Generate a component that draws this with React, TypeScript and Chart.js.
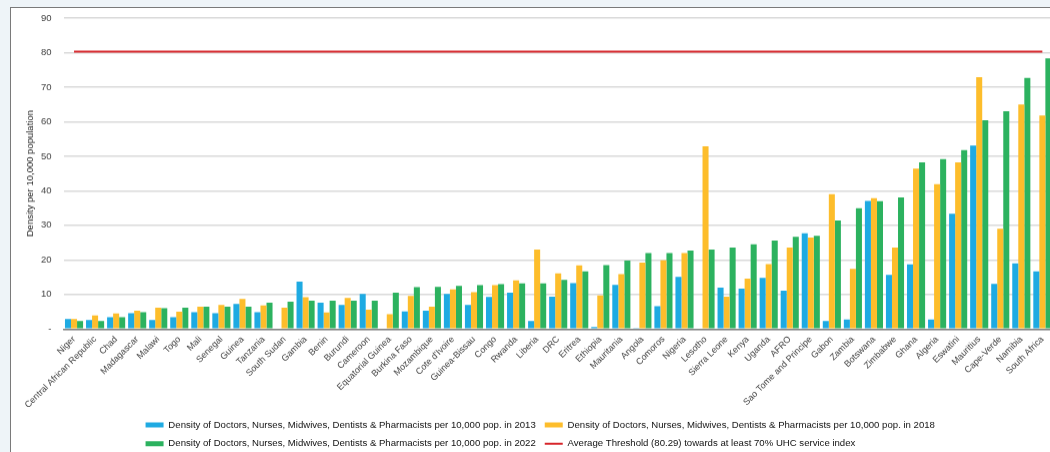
import React, { useEffect, useRef } from 'react';
import { Chart, registerables } from 'chart.js';

Chart.register(...registerables);

const FONT = "'Liberation Sans', Arial, sans-serif";

const categories = [
  'Niger', 'Central African Republic', 'Chad', 'Madagascar', 'Malawi', 'Togo', 'Mali', 'Senegal', 'Guinea',
  'Tanzania', 'South Sudan', 'Gambia', 'Benin', 'Burundi', 'Cameroon', 'Equatorial Guinea', 'Burkina Faso',
  'Mozambique', "Cote d'Ivoire", 'Guinea-Bissau', 'Congo', 'Rwanda', 'Liberia', 'DRC', 'Eritrea', 'Ethiopia',
  'Mauritania', 'Angola', 'Comoros', 'Nigeria', 'Lesotho', 'Sierra Leone', 'Kenya', 'Uganda', 'AFRO',
  'Sao Tome and Principe', 'Gabon', 'Zambia', 'Botswana', 'Zimbabwe', 'Ghana', 'Algeria', 'Eswatini',
  'Mauritius', 'Cape-Verde', 'Namibia', 'South Africa',
];

const density2013 = [
  2.9, 2.6, 3.4, 4.6, 2.6, 3.4, 4.9, 4.6, 7.3, 4.9, null, 13.7, 7.6, 7.0, 10.2, null, 5.1, 5.3, 10.2, 7.0,
  9.3, 10.5, 2.3, 9.4, 13.3, 0.6, 12.8, 0.3, 6.6, 15.1, null, 12.0, 11.7, 14.8, 11.1, 27.7, 2.3, 2.8, 37.1,
  15.7, 18.7, 2.8, 33.4, 53.1, 13.1, 19.0, 16.7,
];

const density2018 = [
  2.9, 3.9, 4.5, 5.3, 6.2, 5.0, 6.5, 7.0, 8.7, 6.8, 6.2, 9.2, 4.8, 9.0, 5.6, 4.3, 9.6, 6.5, 11.5, 10.7,
  12.7, 14.1, 23.0, 16.1, 18.4, 9.7, 15.9, 19.2, 19.9, 22.0, 52.9, 9.4, 14.6, 18.8, 23.6, 26.5, 39.0, 17.4,
  37.9, 23.6, 46.4, 41.9, 48.2, 72.9, 29.0, 65.0, 61.8,
];

const density2022 = [
  2.3, 2.3, 3.4, 4.9, 6.0, 6.2, 6.5, 6.5, 6.5, 7.6, 7.9, 8.2, 8.2, 8.2, 8.2, 10.5, 12.1, 12.2, 12.5, 12.7,
  13.0, 13.2, 13.2, 14.2, 16.7, 18.5, 19.8, 22.0, 22.0, 22.7, 23.0, 23.6, 24.5, 25.6, 26.7, 27.0, 31.4, 35.0,
  37.0, 38.1, 48.2, 49.2, 51.8, 60.4, 63.0, 72.7, 78.3,
];

const THRESHOLD = 80.29;

const seriesLabels = [
  'Density of Doctors, Nurses, Midwives, Dentists & Pharmacists per 10,000 pop. in 2013',
  'Density of Doctors, Nurses, Midwives, Dentists & Pharmacists per 10,000 pop. in 2018',
  'Density of Doctors, Nurses, Midwives, Dentists & Pharmacists per 10,000 pop. in 2022',
  'Average Threshold (80.29) towards at least 70% UHC service index',
];

const yTitle = 'Density per 10,000 population';

const BLUE = '#1eaae2';
const ORANGE = '#fdbd2b';
const GREEN = '#2cb25f';
const RED = '#d7262b';

const LEGEND_PAD = 9;

// Center the first legend row and left-align the following rows with it (Excel-style legend)
const legendRowsAlign = {
  id: 'legendRowsAlign',
  afterLayout(chart: any) {
    const lg = chart.legend;
    if (!lg || !lg.lineWidths || !lg.lineWidths.length) return;
    const w0 = lg.lineWidths[0];
    lg.left = (lg.left + lg.right - w0 - LEGEND_PAD) / 2 + 3;
  },
};

export default function App() {
  const ref = useRef<HTMLCanvasElement>(null);

  useEffect(() => {
    if (!ref.current) return;
    const barCommon = { categoryPercentage: 0.86, barPercentage: 1.0, borderWidth: 0 };
    const chart = new Chart(ref.current, {
      type: 'bar',
      data: {
        labels: categories,
        datasets: [
          { label: seriesLabels[0], data: density2013, backgroundColor: BLUE, ...barCommon },
          { label: seriesLabels[1], data: density2018, backgroundColor: ORANGE, ...barCommon },
          { label: seriesLabels[2], data: density2022, backgroundColor: GREEN, ...barCommon },
          {
            type: 'line',
            label: seriesLabels[3],
            data: categories.map(() => THRESHOLD),
            borderColor: RED,
            backgroundColor: RED,
            borderWidth: 2,
            pointRadius: 0,
            fill: false,
          } as any,
        ],
      },
      plugins: [legendRowsAlign],
      options: {
        animation: false,
        responsive: true,
        maintainAspectRatio: false,
        layout: { padding: { left: 7.5, top: 9, right: 0, bottom: 0 } },
        plugins: {
          tooltip: { enabled: false },
          legend: {
            position: 'bottom',
            align: 'start',
            labels: {
              usePointStyle: true,
              pointStyleWidth: 18,
              boxHeight: 5,
              padding: LEGEND_PAD,
              color: '#111',
              font: { family: FONT, size: 9.6 },
              generateLabels: (c: any) => {
                const items = Chart.defaults.plugins.legend.labels.generateLabels(c);
                return items.map((it: any, i: number) => {
                  if (i === 3) {
                    return { ...it, pointStyle: 'line', lineWidth: 2, strokeStyle: RED, fillStyle: RED };
                  }
                  return { ...it, pointStyle: 'rect', lineWidth: 0 };
                });
              },
            },
          },
        },
        scales: {
          x: {
            grid: { display: false, drawTicks: false },
            border: { color: '#808080', width: 1.5 },
            ticks: {
              autoSkip: false,
              maxRotation: 45,
              minRotation: 45,
              padding: 5,
              color: '#404040',
              font: { family: FONT, size: 9 },
            },
            afterFit: (s: any) => {
              s.height = 82;
            },
          },
          y: {
            min: 0,
            max: 90,
            border: { display: false },
            grid: { color: '#d9d9d9', lineWidth: 1.5, drawTicks: false },
            ticks: {
              stepSize: 10,
              padding: 12,
              color: '#404040',
              font: { family: FONT, size: 9.5 },
              callback: (v: any) => (v === 0 ? '-' : String(v)),
            },
            title: {
              display: true,
              text: yTitle,
              color: '#222',
              font: { family: FONT, size: 9.5 },
              padding: { top: 5, bottom: 0 },
            },
            afterFit: (s: any) => {
              s.width = 44;
              s.paddingTop = 5;
              s.paddingBottom = 5;
            },
          },
        },
      },
    });
    return () => chart.destroy();
  }, []);

  return (
    <div style={{ position: 'fixed', left: 0, top: 0, width: 1050, height: 452, overflow: 'hidden', background: '#eef4f8' }}>
      <div
        style={{
          position: 'absolute',
          left: 10,
          top: 7,
          width: 1100,
          height: 500,
          background: '#fff',
          borderLeft: '1.5px solid #7a7a7a',
          borderTop: '1.5px solid #7a7a7a',
        }}
      />
      <div style={{ position: 'absolute', left: 12, top: 9, width: 1043, height: 448.5 }}>
        <canvas ref={ref} />
      </div>
    </div>
  );
}
